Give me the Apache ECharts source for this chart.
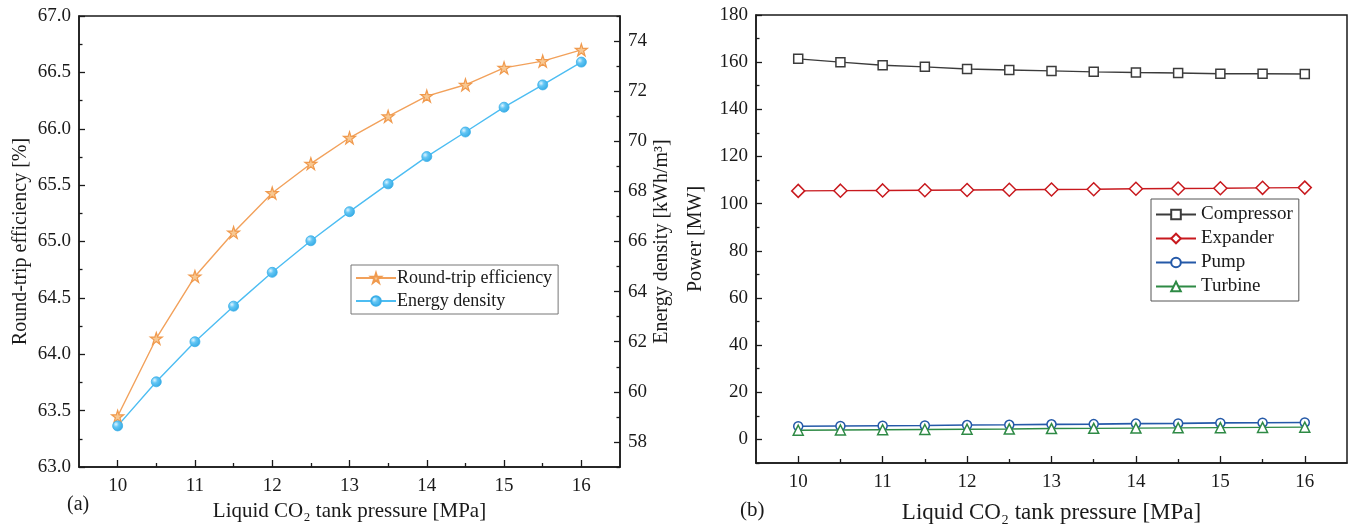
<!DOCTYPE html>
<html>
<head>
<meta charset="utf-8">
<script src="https://cdn.jsdelivr.net/npm/echarts@6/dist/echarts.min.js"></script>
<style>
  html, body { margin: 0; padding: 0; background: #fff; }
  #chart { width: 1352px; height: 529px; }
</style>
</head>
<body>
<div id="chart"></div>
<script>
// Liquid CO2 tank pressure [MPa]
const pressures = [10, 10.5, 11, 11.5, 12, 12.5, 13, 13.5, 14, 14.5, 15, 15.5, 16];
const xTickLabels = [10, 11, 12, 13, 14, 15, 16];
const xTickHalf = [10.5, 11.5, 12.5, 13.5, 14.5, 15.5];

// (a) round-trip efficiency [%] and energy density [kWh/m3]
const efficiency = [63.45, 64.14, 64.69, 65.08, 65.43, 65.69, 65.92, 66.11, 66.29, 66.39, 66.54, 66.60, 66.70];
const density = [58.64, 60.40, 62.00, 63.42, 64.77, 66.03, 67.19, 68.30, 69.39, 70.37, 71.36, 72.25, 73.16];
const effTicks = [63, 63.5, 64, 64.5, 65, 65.5, 66, 66.5, 67];
const effMinorTicks = [63.25, 63.75, 64.25, 64.75, 65.25, 65.75, 66.25, 66.75];
const densityTicks = [58, 60, 62, 64, 66, 68, 70, 72, 74];
const densityMinorTicks = [57, 59, 61, 63, 65, 67, 69, 71, 73, 75];

// (b) component power [MW]
const compressor = [161.4, 160.0, 158.7, 158.0, 157.1, 156.7, 156.3, 155.9, 155.6, 155.4, 155.1, 155.1, 155.0];
const expander = [105.4, 105.5, 105.6, 105.7, 105.8, 105.9, 106.0, 106.1, 106.3, 106.4, 106.5, 106.7, 106.8];
const pump = [5.6, 5.7, 5.8, 5.9, 6.1, 6.2, 6.4, 6.5, 6.7, 6.8, 7.0, 7.1, 7.2];
const turbine = [3.9, 4.0, 4.1, 4.2, 4.3, 4.4, 4.6, 4.7, 4.8, 4.9, 5.0, 5.1, 5.2];
const powerTicks = [0, 20, 40, 60, 80, 100, 120, 140, 160, 180];
const powerMinorTicks = [-10, 10, 30, 50, 70, 90, 110, 130, 150, 170];

const FONT = "'Liberation Serif', 'Times New Roman', serif";
const INK = '#1a1a1a';
const pair = (ys) => pressures.map((x, i) => [x, ys[i]]);
const STAR = 'path://M50,0 L61.2,34.5 L97.6,34.5 L68.2,55.9 L79.4,90.5 L50,69.1 L20.6,90.5 L31.8,55.9 L2.4,34.5 L38.8,34.5 Z';

// x axis: labelled major ticks plus a companion axis carrying the short half-step ticks
function xAxes(gridIndex, nameGap, nameSize) {
  const base = {
    gridIndex, type: 'value', min: 9.5, max: 16.5, position: 'bottom',
    splitLine: { show: false }
  };
  return [
    Object.assign({}, base, {
      name: 'Liquid CO\u2082 tank pressure [MPa]',
      nameLocation: 'middle', nameGap,
      nameTextStyle: { fontFamily: FONT, fontSize: nameSize, color: INK },
      axisLine: { show: true, onZero: false, lineStyle: { color: INK, width: 1.5 } },
      axisTick: { show: true, inside: true, length: 7, customValues: xTickLabels, lineStyle: { color: INK, width: 1.3 } },
      axisLabel: { show: true, customValues: xTickLabels, margin: 10, fontFamily: FONT, fontSize: 19, color: INK }
    }),
    Object.assign({}, base, {
      axisLine: { show: false, onZero: false },
      axisTick: { show: true, inside: true, length: 4, customValues: xTickHalf, lineStyle: { color: INK, width: 1.3 } },
      axisLabel: { show: false }
    })
  ];
}

// y axis: labelled major ticks plus a companion axis carrying the short minor ticks
function yAxisPair(gridIndex, position, min, max, major, minor, name, nameGap, labelFmt) {
  return [
    {
      gridIndex, type: 'value', position, min, max,
      name, nameLocation: 'middle', nameGap, nameRotate: 90,
      nameTextStyle: { fontFamily: FONT, fontSize: 20, color: INK },
      splitLine: { show: false },
      axisLine: { show: true, onZero: false, lineStyle: { color: INK, width: 1.5 } },
      axisTick: { show: true, inside: true, length: 6, customValues: major, lineStyle: { color: INK, width: 1.3 } },
      axisLabel: { show: true, customValues: major, margin: 8, fontFamily: FONT, fontSize: 19, color: INK, formatter: labelFmt }
    },
    {
      gridIndex, type: 'value', position, min, max,
      splitLine: { show: false },
      axisLine: { show: false, onZero: false },
      axisTick: { show: true, inside: true, length: 3.5, customValues: minor, lineStyle: { color: INK, width: 1.3 } },
      axisLabel: { show: false }
    }
  ];
}

const chart = echarts.init(document.getElementById('chart'), null, { renderer: 'canvas' });

const option = {
  backgroundColor: '#ffffff',
  animation: false,
  textStyle: { fontFamily: FONT },
  grid: [
    { left: 79, top: 16, width: 541, height: 451, show: true, borderColor: INK, borderWidth: 1.5, backgroundColor: 'transparent' },
    { left: 756, top: 15, width: 591, height: 448, show: true, borderColor: INK, borderWidth: 1.5, backgroundColor: 'transparent' }
  ],
  xAxis: [].concat(xAxes(0, 30, 21), xAxes(1, 38, 23)),
  yAxis: [].concat(
    yAxisPair(0, 'left', 63, 67, effTicks, effMinorTicks, 'Round-trip efficiency [%]', 48, (v) => v.toFixed(1)),
    yAxisPair(0, 'right', 57, 75, densityTicks, densityMinorTicks, 'Energy density [kWh/m\u00B3]', 32, (v) => String(v)),
    yAxisPair(1, 'left', -10, 180, powerTicks, powerMinorTicks, 'Power [MW]', 50, (v) => String(v))
  ),
  legend: [
    {
      left: 351, top: 265, width: 206, orient: 'vertical',
      data: ['Round-trip efficiency', 'Energy density'],
      itemWidth: 40, itemHeight: 12, itemGap: 5,
      padding: [4, 6, 4, 4],
      borderColor: '#777', borderWidth: 1,
      textStyle: { fontFamily: FONT, fontSize: 18, color: INK, padding: [0, 0, 0, -4] }
    },
    {
      left: 1151, top: 199, width: 150, orient: 'vertical',
      data: ['Compressor', 'Expander', 'Pump', 'Turbine'],
      itemWidth: 40, itemHeight: 12, itemGap: 5,
      padding: [6, 6, 5, 4],
      borderColor: '#555', borderWidth: 1,
      textStyle: { fontFamily: FONT, fontSize: 19, color: INK, padding: [0, 0, 0, 0] }
    }
  ],
  series: [
    {
      name: 'Round-trip efficiency', type: 'line', xAxisIndex: 0, yAxisIndex: 0,
      data: pair(efficiency), symbol: STAR, symbolSize: 12,
      lineStyle: { color: '#F2A15B', width: 1.4 },
      itemStyle: { color: '#F8C892', borderColor: '#F09A4E', borderWidth: 1.2 }
    },
    {
      name: 'Energy density', type: 'line', xAxisIndex: 0, yAxisIndex: 2,
      data: pair(density), symbol: 'circle', symbolSize: 10,
      lineStyle: { color: '#4DBDF2', width: 1.4 },
      itemStyle: {
        color: {
          type: 'radial', x: 0.35, y: 0.35, r: 0.75,
          colorStops: [
            { offset: 0, color: '#dff4ff' },
            { offset: 0.35, color: '#62c6f5' },
            { offset: 1, color: '#2ea5e0' }
          ]
        },
        borderColor: '#3AAEE8', borderWidth: 0.8
      }
    },
    {
      name: 'Compressor', type: 'line', xAxisIndex: 2, yAxisIndex: 4,
      data: pair(compressor), symbol: 'rect', symbolSize: 9,
      lineStyle: { color: '#3b3b3b', width: 1.4 },
      itemStyle: { color: '#ffffff', borderColor: '#3b3b3b', borderWidth: 1.5 }
    },
    {
      name: 'Expander', type: 'line', xAxisIndex: 2, yAxisIndex: 4,
      data: pair(expander), symbol: 'diamond', symbolSize: [13, 13],
      lineStyle: { color: '#C8191E', width: 1.4 },
      itemStyle: { color: '#ffffff', borderColor: '#C8191E', borderWidth: 1.5 }
    },
    {
      name: 'Pump', type: 'line', xAxisIndex: 2, yAxisIndex: 4,
      data: pair(pump), symbol: 'circle', symbolSize: 9,
      lineStyle: { color: '#2459A8', width: 1.6 },
      itemStyle: { color: '#ffffff', borderColor: '#2459A8', borderWidth: 1.5 }
    },
    {
      name: 'Turbine', type: 'line', xAxisIndex: 2, yAxisIndex: 4,
      data: pair(turbine), symbol: 'triangle', symbolSize: 10,
      lineStyle: { color: '#2E8A45', width: 1.4 },
      itemStyle: { color: '#ffffff', borderColor: '#2E8A45', borderWidth: 1.5 }
    }
  ],
  graphic: [
    { type: 'text', left: 67, top: 495, style: { text: '(a)', font: "20px 'Liberation Serif', serif", fill: INK } },
    { type: 'text', left: 740, top: 500, style: { text: '(b)', font: "21px 'Liberation Serif', serif", fill: INK } }
  ]
};

chart.setOption(option);
</script>
</body>
</html>
